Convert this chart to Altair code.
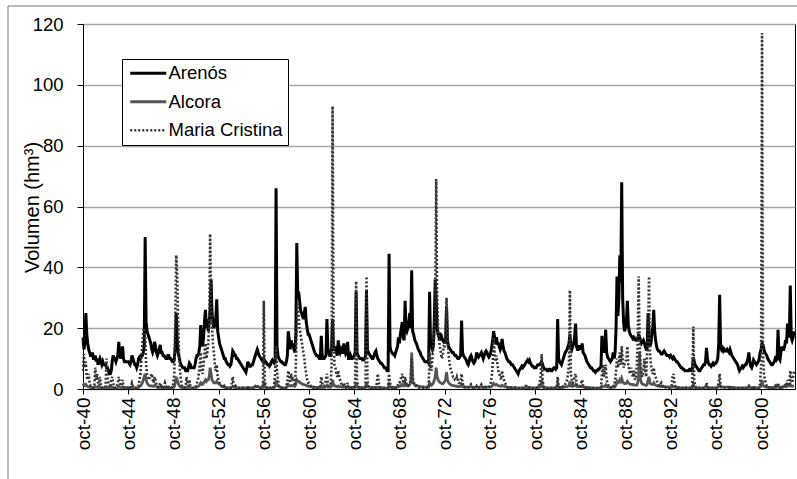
import altair as alt
import pandas as pd

series_names = ["Arenós", "Alcora", "Maria Cristina"]

# Monthly volumes (hm3), one row per hydrological year (oct ... sep), 1940-41 .. 2002-03
arenos = [
    [17, 13, 15, 25, 18, 15, 13, 12, 11, 11, 12, 10],
    [10, 11, 9, 10, 8, 9, 10, 9, 8, 9, 8, 8],
    [8, 7, 7, 6, 5, 5, 6, 9, 11, 10, 10, 9],
    [10, 11, 15.5, 12, 10, 11, 14, 10, 9, 9, 9, 9],
    [9, 8.5, 8, 9, 11, 10, 9, 8, 8, 7, 8, 10],
    [10.5, 10, 11, 11, 12, 14, 50, 22, 19, 18, 17, 16],
    [15, 13, 12, 13, 15.5, 14, 12, 11, 12, 13, 14.5, 12],
    [12, 11, 11, 10.5, 10, 10, 11, 11, 10, 10, 9.5, 9],
    [9, 10, 14, 25, 16, 12, 10.5, 9, 8, 7.5, 7, 7],
    [7, 6, 6, 6, 7, 8.5, 8, 7, 7, 7, 7, 8],
    [10, 11, 11, 12, 14, 21, 15, 14, 17, 22, 26, 20],
    [23, 19, 22, 26, 36, 25, 22, 20, 21, 23, 29.5, 19],
    [17, 15, 14, 13, 12, 11, 10, 10, 9, 8.5, 8, 8],
    [7.5, 8, 10, 12.5, 12, 11, 11, 10, 10, 9.5, 9, 8.5],
    [8, 7.5, 7, 6.5, 6, 5.5, 7, 9, 8, 7.5, 7.5, 8],
    [8, 9, 10, 11, 12, 13, 12, 11, 10.5, 10, 9.5, 9],
    [10, 9, 9, 8.5, 8, 8, 7.5, 8, 9, 9.5, 9, 8.5],
    [9, 66, 14, 11, 10, 9.5, 9, 9, 8.5, 8.5, 8, 8],
    [9, 11, 19, 16, 13, 16, 14, 15, 13, 12, 18, 48],
    [31, 32, 29, 26, 25, 24, 23, 25, 27, 22, 20, 18],
    [18, 17, 16, 15, 14, 13, 12, 11.5, 11, 11, 10.5, 10],
    [10, 17.5, 11, 10, 10, 10.5, 11, 23, 13, 12, 11, 11],
    [14, 23, 13, 13, 14, 12, 11, 16, 13, 12, 13, 12],
    [12, 15, 13, 11.5, 12, 15.5, 10, 10, 11, 10, 10, 10.5],
    [11, 12, 32, 12, 11, 10.5, 10, 10, 10, 9.5, 9.5, 10],
    [11, 32.5, 13, 12, 11.5, 11, 10.5, 10, 10, 11, 12, 12.5],
    [11, 10, 9.5, 9, 8.5, 8.5, 8, 7.5, 7, 7, 6.5, 6],
    [6, 44.5, 14, 12.5, 12, 11.5, 11.5, 11, 12, 13, 14, 17],
    [15, 18, 20, 22, 17, 16, 29, 20, 19, 20, 22, 25],
    [20, 39, 19, 18, 16.5, 15.5, 15, 14, 13, 12.5, 12, 11],
    [10.5, 10, 9.5, 9, 9, 9, 9, 8.5, 32, 15, 14, 13],
    [14, 22, 36, 30, 20, 18, 17, 17.5, 16, 17, 16, 15.5],
    [16, 15, 27, 16, 14, 13.5, 13, 12.5, 12, 12, 11.5, 11],
    [11, 10.5, 10, 10, 10.5, 11, 22.5, 12, 11, 10.5, 10, 9.5],
    [8.5, 8, 9, 10.5, 11, 10, 9, 8.5, 9, 10, 12, 11],
    [10.5, 11, 11.5, 12, 11, 10, 11, 12, 12.5, 12, 11, 10.5],
    [11, 12, 14, 16, 19, 17, 16, 17, 15, 15, 14, 13],
    [14, 16.5, 14, 12.5, 12, 11, 10, 9.5, 9, 9, 8.5, 8],
    [8, 7.5, 7, 6.5, 6, 5.5, 5, 6, 6.5, 7, 7.5, 7],
    [7.5, 8, 8.5, 9, 9.5, 9, 9.5, 8.5, 8, 7.5, 7.5, 7],
    [7, 7, 7.5, 8, 8, 8, 8.5, 9, 8, 7, 6.5, 6.5],
    [6.5, 6, 6, 6.5, 6.5, 6, 6, 6.5, 7, 7, 6.5, 7],
    [23, 10, 9, 8.5, 8, 9, 10, 11, 12, 12.5, 13, 14],
    [15, 18, 14, 13, 14, 15, 17, 21.5, 14, 13, 13, 14],
    [14, 13, 15, 12, 11.5, 11, 10, 9, 8.5, 8, 7.5, 7],
    [7, 6.5, 6, 6, 5.5, 6, 6, 6.5, 6.5, 7, 7.5, 17.5],
    [13, 12, 14, 19.5, 12, 10.5, 10, 9.5, 9, 9.5, 10, 12],
    [10, 12, 20, 37, 24, 30, 44, 35, 68, 30, 22, 19],
    [20, 22, 29, 21, 19, 18, 17.5, 17, 16.5, 17, 16.5, 16],
    [16, 16.5, 18, 17, 16, 15, 15.5, 16, 15, 14, 13, 13],
    [25, 16, 14, 15, 18, 20, 26, 19, 16, 14, 13, 12.5],
    [12.5, 12, 11.5, 11.5, 12, 12.5, 12, 11.5, 11, 11, 11, 10.5],
    [11, 10.5, 10, 10.5, 10, 9.5, 9, 9, 8.5, 8, 7.5, 7],
    [7, 6.5, 6.5, 6, 6, 6, 6, 6, 6.5, 6.5, 6, 6],
    [10.5, 9, 8, 7.5, 7, 6.5, 6, 6, 6.5, 7, 7.5, 8],
    [8, 9, 13.5, 10, 8.5, 8, 8, 7.5, 8, 8.5, 8, 8.5],
    [8.5, 9, 10, 15, 31, 14, 13, 13.5, 12.5, 13, 12.5, 12.5],
    [13, 12.5, 12, 13, 12, 11, 10.5, 10, 9.5, 9, 8.5, 8],
    [7, 6, 6.5, 7, 7.5, 7, 7.5, 8, 8, 9, 10, 12],
    [9, 7.5, 7, 8, 9.5, 9, 8.5, 8, 8.5, 9, 10, 12],
    [13, 15, 14.5, 13, 12, 11.5, 11, 10, 9.5, 9, 8.5, 8],
    [8, 8.5, 9, 10, 9.5, 10, 19.5, 10, 9.5, 12, 14, 13],
    [13, 14, 16, 15, 21.5, 17, 18, 34, 17, 16, 17, 19],
]

alcora = [
    [1, 1.5, 1.2, 1.5, 1, 0.8, 0.7, 0.6, 0.5, 0.5, 0.5, 0.5],
    [0.5, 0.8, 0.6, 0.7, 0.5, 0.5, 0.6, 0.5, 0.4, 0.4, 0.4, 0.4],
    [0.4, 0.7, 0.5, 0.5, 0.4, 0.4, 0.5, 0.6, 0.5, 0.4, 0.4, 0.4],
    [0.4, 0.5, 0.8, 0.6, 0.5, 0.5, 0.7, 0.5, 0.4, 0.4, 0.4, 0.4],
    [0.4, 0.4, 0.4, 0.5, 0.6, 0.5, 0.4, 0.4, 0.3, 0.3, 0.4, 0.5],
    [0.8, 1, 1.5, 2, 3, 4, 5, 3, 2, 1.5, 1.2, 1],
    [1, 1, 0.9, 0.9, 1.2, 1, 0.8, 0.7, 0.6, 0.6, 0.6, 0.5],
    [0.5, 0.5, 0.5, 0.6, 0.5, 0.5, 0.5, 0.5, 0.4, 0.4, 0.4, 0.4],
    [0.5, 0.8, 2, 4, 3, 2, 1.2, 0.8, 0.6, 0.5, 0.5, 0.5],
    [0.4, 0.5, 0.6, 0.5, 0.5, 0.6, 0.5, 0.4, 0.4, 0.4, 0.4, 0.4],
    [0.5, 0.6, 0.8, 1, 1.5, 2, 1.5, 1.5, 2, 2.5, 3, 2.5],
    [3, 3, 4, 7, 5, 3, 2.5, 2, 2, 2, 2.5, 2],
    [1.8, 1.5, 1.2, 1, 0.8, 0.7, 0.6, 0.5, 0.5, 0.4, 0.4, 0.4],
    [0.4, 0.4, 0.6, 0.8, 0.6, 0.5, 0.5, 0.4, 0.4, 0.4, 0.4, 0.4],
    [0.4, 0.4, 0.4, 0.4, 0.3, 0.3, 0.4, 0.5, 0.4, 0.4, 0.4, 0.4],
    [0.4, 0.5, 0.6, 0.7, 0.8, 0.8, 0.7, 0.6, 0.5, 0.5, 0.4, 0.4],
    [2.5, 0.8, 0.5, 0.4, 0.4, 0.4, 0.4, 0.4, 0.4, 0.4, 0.4, 0.5],
    [0.8, 3, 1.5, 1, 0.8, 0.6, 0.5, 0.5, 0.4, 0.4, 0.4, 0.4],
    [0.5, 0.8, 1.5, 1.2, 1, 1.2, 1, 1.1, 1, 0.9, 1.5, 3],
    [2.5, 2.5, 2.2, 2, 1.8, 1.6, 1.5, 1.4, 1.3, 1.2, 1, 0.9],
    [0.9, 0.8, 0.8, 0.7, 0.7, 0.6, 0.6, 0.5, 0.5, 0.5, 0.5, 0.5],
    [0.5, 1, 0.6, 0.5, 0.5, 0.6, 0.7, 1.2, 0.7, 0.6, 0.6, 0.6],
    [1, 3, 1.5, 1, 1, 0.8, 0.7, 1, 0.8, 0.7, 0.7, 0.6],
    [0.6, 0.8, 0.7, 0.6, 0.6, 0.8, 0.5, 0.5, 0.5, 0.5, 0.5, 0.5],
    [0.5, 0.6, 2, 0.7, 0.6, 0.5, 0.5, 0.5, 0.5, 0.4, 0.4, 0.4],
    [0.5, 2, 0.8, 0.6, 0.6, 0.5, 0.5, 0.5, 0.5, 0.5, 0.5, 0.5],
    [0.5, 0.6, 0.5, 0.5, 0.4, 0.4, 0.4, 0.4, 0.3, 0.3, 0.3, 0.3],
    [0.3, 1.5, 0.8, 0.6, 0.6, 0.5, 0.5, 0.5, 0.5, 0.6, 0.7, 0.8],
    [0.8, 1, 1.2, 1.5, 1, 1, 2, 1.2, 1, 1, 1.2, 1.5],
    [2, 12, 2.5, 2, 1.5, 1.3, 1.2, 1, 1, 0.9, 0.8, 0.8],
    [0.7, 0.7, 0.6, 0.6, 0.6, 0.6, 0.6, 0.6, 2, 1.5, 1.2, 1.5],
    [2, 3, 4, 7, 4, 3, 2.5, 2.2, 2, 1.8, 1.7, 2],
    [2.5, 3, 5.5, 3, 2.2, 1.8, 1.5, 1.3, 1.2, 1.1, 1, 1],
    [0.9, 0.9, 0.8, 0.8, 0.8, 0.9, 1.5, 0.9, 0.8, 0.7, 0.7, 0.6],
    [0.6, 0.6, 0.6, 0.7, 0.7, 0.6, 0.6, 0.5, 0.5, 0.6, 0.7, 0.6],
    [0.6, 0.6, 0.7, 0.7, 0.6, 0.6, 0.6, 0.7, 0.7, 0.6, 0.6, 0.6],
    [0.6, 0.7, 0.9, 1.2, 1.8, 1.5, 1.3, 1.5, 1.2, 1.1, 1, 0.9],
    [0.9, 1.2, 1, 0.9, 0.8, 0.7, 0.6, 0.6, 0.5, 0.5, 0.5, 0.5],
    [0.4, 0.4, 0.4, 0.4, 0.4, 0.3, 0.3, 0.3, 0.3, 0.4, 0.4, 0.4],
    [0.4, 0.4, 0.5, 0.5, 0.5, 0.5, 0.5, 0.4, 0.4, 0.4, 0.4, 0.4],
    [0.4, 0.4, 0.4, 0.5, 0.5, 0.6, 0.8, 3, 0.8, 0.5, 0.4, 0.4],
    [0.4, 0.4, 0.4, 0.4, 0.4, 0.4, 0.4, 0.4, 0.4, 0.4, 0.4, 0.4],
    [1.5, 0.6, 0.5, 0.5, 0.5, 0.5, 0.6, 0.6, 0.7, 0.7, 0.8, 0.9],
    [1, 2.5, 1, 0.9, 0.9, 1, 1.1, 1.5, 0.9, 0.8, 0.8, 0.8],
    [0.8, 0.8, 1, 0.7, 0.6, 0.6, 0.5, 0.5, 0.5, 0.4, 0.4, 0.4],
    [0.4, 0.4, 0.3, 0.3, 0.3, 0.3, 0.3, 0.3, 0.3, 0.4, 0.4, 1],
    [0.9, 0.8, 0.9, 1.3, 0.8, 0.7, 0.6, 0.6, 0.5, 0.5, 0.6, 0.7],
    [0.6, 0.8, 1.5, 2.5, 2, 2.2, 3, 2.5, 3.5, 2.5, 2, 1.8],
    [1.8, 2, 2.5, 2, 1.8, 1.6, 1.5, 1.5, 1.4, 1.4, 1.3, 1.3],
    [1.3, 2, 5, 12, 3, 2, 1.6, 1.5, 1.4, 1.3, 1.2, 1.5],
    [3, 4, 2, 1.6, 1.5, 1.5, 2, 1.5, 1.3, 1.1, 1, 0.9],
    [0.9, 0.9, 0.8, 0.8, 0.8, 0.8, 0.8, 0.7, 0.7, 0.7, 0.6, 0.6],
    [0.6, 0.6, 0.7, 0.8, 0.6, 0.6, 0.5, 0.5, 0.5, 0.5, 0.4, 0.4],
    [0.4, 0.4, 0.4, 0.4, 0.4, 0.4, 0.4, 0.4, 0.4, 0.4, 0.4, 0.4],
    [1.5, 0.6, 0.5, 0.4, 0.4, 0.4, 0.4, 0.4, 0.4, 0.4, 0.4, 0.4],
    [0.4, 0.5, 0.8, 0.6, 0.5, 0.4, 0.4, 0.4, 0.4, 0.4, 0.4, 0.4],
    [0.4, 0.5, 0.6, 0.8, 1.5, 0.8, 0.7, 0.7, 0.6, 0.6, 0.6, 0.6],
    [0.6, 0.6, 0.6, 0.6, 0.5, 0.5, 0.5, 0.5, 0.4, 0.4, 0.4, 0.4],
    [0.4, 0.4, 0.4, 0.4, 0.4, 0.4, 0.4, 0.4, 0.4, 0.4, 0.5, 0.6],
    [0.5, 0.4, 0.4, 0.4, 0.5, 0.5, 0.4, 0.4, 0.4, 0.4, 0.5, 0.6],
    [1, 3, 1.2, 0.9, 0.8, 0.7, 0.6, 0.6, 0.5, 0.5, 0.5, 0.5],
    [0.5, 0.5, 0.5, 0.6, 0.5, 0.6, 1, 0.6, 0.5, 0.6, 0.7, 0.7],
    [0.7, 0.8, 0.9, 0.8, 1.2, 1, 1, 1.5, 1, 0.9, 1, 1.1],
]

maria_cristina = [
    [6, 11.5, 7, 9, 4, 3, 5, 2, 1, 0.5, 0.3, 0.5],
    [1, 7, 3, 5, 2, 1, 4, 1, 0.5, 0.3, 0.2, 0.5],
    [1, 10, 4, 2, 1, 0.5, 3, 4, 2, 0.5, 0.3, 0.5],
    [1, 2, 4, 2, 1, 1.5, 3, 1, 0.5, 0.3, 0.3, 0.5],
    [0.5, 1, 0.5, 1, 2, 1, 0.5, 0.5, 0.3, 0.3, 0.5, 1],
    [3, 5, 10, 15, 19, 20, 18, 8, 5, 4, 3, 4],
    [4, 5, 3, 2, 4, 3, 1.5, 1, 0.5, 1, 2, 1],
    [1, 0.5, 1, 2, 1, 0.5, 1, 0.5, 0.3, 0.3, 0.5, 0.5],
    [2, 5, 24, 44, 38, 22, 12, 6, 3, 1, 0.5, 0.5],
    [0.5, 1, 4, 2, 1, 3, 1, 0.5, 0.3, 0.3, 0.3, 0.5],
    [1, 2, 3, 5, 8, 12, 6, 5, 8, 12, 15, 10],
    [12, 15, 22, 51, 30, 20, 15, 12, 8, 6, 8, 4],
    [3, 2, 1.5, 1, 0.5, 0.5, 1, 0.5, 0.3, 0.3, 0.3, 0.3],
    [0.3, 0.5, 2, 4, 1, 0.5, 1, 0.5, 0.3, 0.3, 0.3, 0.3],
    [0.3, 0.3, 0.5, 0.5, 0.3, 0.3, 0.5, 1, 0.5, 0.3, 0.3, 0.3],
    [0.3, 0.5, 1, 1, 1.5, 1, 0.5, 0.5, 0.3, 0.3, 0.3, 0.5],
    [29, 3, 1, 0.5, 0.5, 0.5, 0.3, 0.3, 0.3, 0.3, 0.3, 2],
    [5, 14, 6, 3, 1, 0.5, 0.5, 0.3, 0.3, 0.3, 0.3, 0.3],
    [1, 3, 6, 4, 2, 5, 3, 4, 2, 1, 8, 22],
    [28, 24, 20, 18, 16, 14, 12, 10, 7, 5, 3, 2],
    [2, 1.5, 1, 1, 0.5, 0.5, 0.5, 0.3, 0.3, 0.3, 0.3, 0.3],
    [1, 4, 2, 1, 1, 2, 3, 5, 2, 1, 1, 2],
    [8, 93, 20, 8, 7, 5, 4, 6, 4, 3, 2, 1],
    [1, 2, 1, 0.5, 1, 2, 0.5, 0.3, 0.3, 0.3, 0.3, 0.3],
    [0.5, 3, 35.5, 3, 1, 0.5, 0.5, 0.3, 0.3, 0.3, 0.3, 0.3],
    [1, 37, 3, 1, 0.5, 0.5, 0.3, 0.3, 0.3, 0.3, 0.3, 0.5],
    [2, 5, 2, 1, 0.5, 0.5, 0.3, 0.3, 0.3, 0.3, 0.3, 0.3],
    [0.5, 5, 2, 1, 0.5, 0.5, 0.5, 0.3, 0.3, 0.5, 1, 2],
    [2, 3, 4, 5, 2, 2, 4, 2, 1, 1, 1.5, 2],
    [3, 10, 4, 2, 1.5, 1, 1, 0.5, 0.5, 0.3, 0.3, 0.3],
    [0.3, 0.3, 0.5, 0.5, 0.5, 0.5, 0.3, 0.5, 12, 8, 6, 10],
    [14, 18, 28, 69, 30, 20, 16, 14, 12, 10, 11, 14],
    [14, 18, 30, 18, 12, 9, 7, 6, 5, 4, 4, 3],
    [3, 4, 3, 2, 2, 3, 5, 2, 1, 0.5, 0.5, 0.3],
    [0.3, 0.5, 1, 1, 1.5, 1, 0.5, 0.5, 0.3, 0.5, 1, 0.5],
    [0.5, 0.5, 1, 1.5, 1, 0.5, 1, 1, 0.5, 0.5, 0.5, 0.5],
    [1, 2, 4, 8, 17, 12, 9, 11, 8, 6, 5, 4],
    [3, 6, 4, 3, 2, 1.5, 1, 0.5, 0.5, 0.3, 0.3, 0.3],
    [0.3, 0.3, 0.3, 0.5, 0.3, 0.3, 0.3, 0.3, 0.3, 0.3, 0.3, 0.3],
    [0.3, 0.5, 1, 1, 0.5, 0.5, 0.5, 0.3, 0.3, 0.3, 0.3, 0.3],
    [0.3, 0.3, 0.5, 0.5, 1, 2, 4, 11.5, 3, 1, 0.5, 0.3],
    [0.3, 0.3, 0.3, 0.5, 0.5, 0.3, 0.3, 0.3, 0.3, 0.3, 0.3, 0.3],
    [4, 1, 0.5, 0.5, 0.3, 0.5, 1, 1, 1.5, 2, 3, 5],
    [8, 32.5, 5, 3, 2, 3, 4, 5, 2, 1, 1, 1],
    [1, 2, 3, 1, 0.5, 0.5, 0.3, 0.3, 0.3, 0.3, 0.3, 0.3],
    [0.3, 0.3, 0.3, 0.3, 0.3, 0.3, 0.3, 0.3, 0.3, 0.3, 0.5, 5],
    [8, 4, 6, 8, 3, 2, 1, 0.5, 0.5, 0.3, 0.5, 1],
    [1, 3, 6, 10, 7, 9, 12, 8, 14, 10, 7, 8],
    [9, 10, 14, 8, 6, 5, 7, 5, 4, 6, 3, 4],
    [8, 15, 37, 15, 8, 5, 4, 6, 10, 6, 4, 12],
    [18, 37, 12, 8, 6, 5, 7, 5, 4, 3, 2, 1.5],
    [1, 1.5, 2, 1, 1, 0.5, 0.5, 0.5, 0.3, 0.3, 0.3, 0.3],
    [0.5, 1, 4, 5, 2, 1, 0.5, 0.5, 0.3, 0.3, 0.3, 0.3],
    [0.3, 0.3, 0.3, 0.5, 0.5, 0.3, 0.3, 0.3, 0.3, 0.3, 0.3, 0.5],
    [20.5, 3, 1, 0.5, 0.5, 0.3, 0.3, 0.3, 0.3, 0.3, 0.3, 0.3],
    [0.3, 0.5, 2, 1, 0.5, 0.3, 0.3, 0.3, 0.3, 0.3, 0.3, 0.3],
    [0.3, 0.5, 1, 2, 5, 1, 0.5, 0.5, 0.3, 0.3, 0.3, 0.3],
    [0.3, 0.5, 0.5, 1, 0.5, 0.3, 0.3, 0.3, 0.3, 0.3, 0.3, 0.3],
    [0.3, 0.3, 0.3, 0.3, 0.3, 0.3, 0.3, 0.3, 0.3, 0.3, 0.5, 1],
    [0.5, 0.3, 0.3, 0.5, 1, 0.5, 0.3, 0.3, 0.3, 0.3, 0.5, 2],
    [8, 117, 12, 5, 3, 2, 1, 1, 0.5, 0.5, 0.3, 0.3],
    [0.3, 0.3, 0.5, 1, 0.5, 1, 2, 0.5, 0.3, 0.5, 1, 0.5],
    [0.5, 1, 2, 1, 3, 2, 1, 6, 3, 2, 4, 6],
]

tick_months = list(range(0, 756, 48))   # oct-40, oct-44, ... oct-00
y_ticks = [0, 20, 40, 60, 80, 100, 120]

records = []
for name, table in zip(series_names, [arenos, alcora, maria_cristina]):
    for yi, row in enumerate(table):
        for mi, v in enumerate(row):
            records.append({"serie": name, "mes": yi * 12 + mi, "vol": v})
df = pd.DataFrame(records)

FONT = "Liberation Sans"

color_scale = alt.Scale(domain=series_names, range=["#000000", "#555555", "#333333"])
dash_scale = alt.Scale(domain=series_names, range=[[1, 0], [1, 0], [2, 2]])
width_scale = alt.Scale(domain=series_names, range=[3, 2.6, 2.2])

legend = alt.Legend(
    title=None, orient="none", legendX=39, legendY=35,
    symbolType="M-1,0H5", symbolSize=144, labelOffset=23,
    labelFont=FONT, labelFontSize=18.5, labelColor="black",
    padding=5, rowPadding=9.5, strokeColor="black", fillColor="white",
    cornerRadius=0,
)

x_enc = alt.X(
    "mes:Q",
    scale=alt.Scale(domain=[0, 756], nice=False, zero=False),
    axis=alt.Axis(
        values=tick_months,
        labelExpr="'oct-' + slice('0' + ((1940 + datum.value / 12) % 100), -2)",
        labelAngle=-90, labelFont=FONT, labelFontSize=19, labelColor="black",
        labelPadding=3, tickSize=5, tickColor="black", domainColor="black",
        grid=False, title=None,
    ),
)
y_enc = alt.Y(
    "vol:Q",
    scale=alt.Scale(domain=[0, 120], nice=False),
    axis=alt.Axis(
        values=y_ticks, labelFont=FONT, labelFontSize=18.5, labelColor="black",
        labelPadding=14, tickSize=6, tickColor="black", domainColor="black",
        grid=True, gridColor="#a6a6a6", gridWidth=1.5,
        title="Volumen (hm³)", titleFont=FONT, titleFontSize=20,
        titleFontWeight="normal", titleColor="black", titleX=-41, titleY=183,
    ),
)


def series_layer(name):
    return (
        alt.Chart(df)
        .transform_filter(alt.datum.serie == name)
        .mark_line()
        .encode(
            x=x_enc, y=y_enc,
            color=alt.Color("serie:N", scale=color_scale, legend=legend),
            strokeDash=alt.StrokeDash("serie:N", scale=dash_scale, legend=legend),
            strokeWidth=alt.StrokeWidth("serie:N", scale=width_scale, legend=legend),
        )
    )


frame_df = pd.DataFrame({"k": [0]})
frame_top = alt.Chart(frame_df).mark_rule(color="#a6a6a6", strokeWidth=1.5).encode(
    x=alt.value(-75), x2=alt.value(720), y=alt.value(-18)
)
frame_left = alt.Chart(frame_df).mark_rule(color="#a6a6a6", strokeWidth=1.5).encode(
    x=alt.value(-75), y=alt.value(-18), y2=alt.value(460)
)

chart = (
    alt.layer(frame_top, frame_left, *[series_layer(n) for n in series_names])
    .properties(
        width=712, height=365,
        autosize=alt.AutoSizeParams(type="none"),
        padding={"left": 83, "top": 24, "right": 2, "bottom": 90},
        background="white",
    )
    .configure_view(stroke="black", strokeWidth=1)
)

chart.save("out.html", embed_options={"renderer": "svg", "actions": False})
